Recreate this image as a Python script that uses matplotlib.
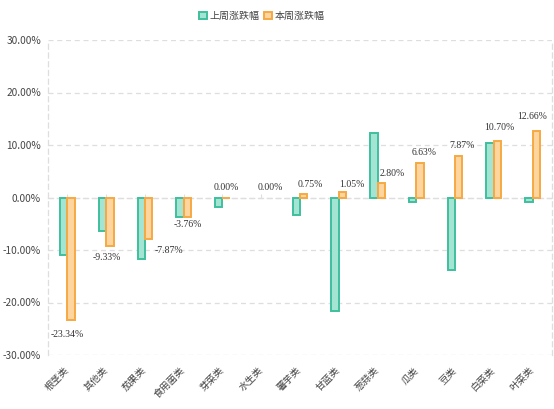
import numpy as np
import matplotlib
matplotlib.use("Agg")
from matplotlib import pyplot as plt
from matplotlib.patches import Patch

plt.rcParams['font.family'] = ['Noto Sans CJK SC', 'DejaVu Sans']

# 数据（水生类无柱，标签显示 0.00%）
categories = ['根茎类', '其他类', '茄果类', '食用菌类', '芽菜类', '水生类', '薯芋类',
              '甘蓝类', '葱蒜类', '瓜类', '豆类', '白菜类', '叶菜类']
last_week = [-10.9, -6.3, -11.8, -3.7, -1.8, np.nan, -3.25, -21.7, 12.2, -0.8, -13.8, 10.45, -0.8]
this_week = [-23.34, -9.33, -7.87, -3.76, 0.00, np.nan, 0.75, 1.05, 2.80, 6.63, 7.87, 10.70, 12.66]
yticks = [-30, -20, -10, 0, 10, 20, 30]

# 数据标签微调（像素）
label_dx = [-4, -3, 20, 0, 0, 5, 7, 9, 11, 4, 3, 2, -4]
label_dy = [-14, -11, -12, -7, 10, 10, 9, 7, 9, 10, 11, 14, 15]

green_edge, green_fill = '#3fbf9f', '#a3e4d2'
orange_edge, orange_fill = '#f6a944', '#fed59e'
grid_c = '#dedede'
text_c = '#444444'

fig = plt.figure(figsize=(5.54, 4.09), dpi=100)
ax = fig.add_axes([48 / 554, (409 - 355) / 409, 504 / 554, 315 / 409])

x = np.arange(len(categories))
bw = 0.19
ax.bar(x - bw / 2, last_week, bw, color=green_fill, edgecolor=green_edge, linewidth=1.4, zorder=3)
ax.bar(x + bw / 2, this_week, bw, color=orange_fill, edgecolor=orange_edge, linewidth=1.4, zorder=3)

for i, v in enumerate(np.nan_to_num(this_week)):
    ax.annotate(f'{v:.2f}%', (x[i] + bw / 2, v), xytext=(label_dx[i], label_dy[i]),
                textcoords='offset pixels', ha='center', va='center',
                fontsize=7, family='Liberation Serif', color='#333333', zorder=4)

ax.set_xlim(-0.5, len(categories) - 0.5)
ax.set_ylim(-30, 30)
ax.set_yticks(yticks)
ax.set_yticklabels([f'{t:.2f}%' for t in yticks])
ax.yaxis.grid(True, color=grid_c, linestyle=(0, (4, 3)), linewidth=0.9)
ax.set_axisbelow(True)

for s in ['left', 'right']:
    ax.spines[s].set_color(grid_c)
    ax.spines[s].set_linestyle((0, (4, 3)))
    ax.spines[s].set_linewidth(0.9)
ax.spines['bottom'].set_visible(False)
ax.spines['top'].set_position(('data', 0))
ax.spines['top'].set_color(grid_c)
ax.spines['top'].set_linestyle((0, (4, 3)))
ax.spines['top'].set_linewidth(0.9)

ax.set_xticks(x)
ax.tick_params(axis='x', bottom=False, top=True, labelbottom=True, labeltop=False,
               length=3, color=grid_c, pad=7, labelsize=7, labelcolor=text_c)
ax.tick_params(axis='y', length=0, pad=5, labelsize=7.3, labelcolor=text_c)
ax.set_xticklabels(categories)
for lab in ax.get_xticklabels():
    lab.set_rotation(45)
    lab.set_ha('right')
    lab.set_va('center')
    lab.set_rotation_mode('anchor')

handles = [Patch(facecolor=green_fill, edgecolor=green_edge, linewidth=1.4, label='上周涨跌幅'),
           Patch(facecolor=orange_fill, edgecolor=orange_edge, linewidth=1.4, label='本周涨跌幅')]
fig.legend(handles=handles, loc='center', bbox_to_anchor=(262 / 554, 1 - 16 / 409), ncol=2,
           frameon=False, fontsize=7.2, handlelength=0.8, handleheight=0.8,
           handletextpad=0.3, columnspacing=0.4, labelcolor=text_c)

fig.savefig('out.png', dpi=100)
